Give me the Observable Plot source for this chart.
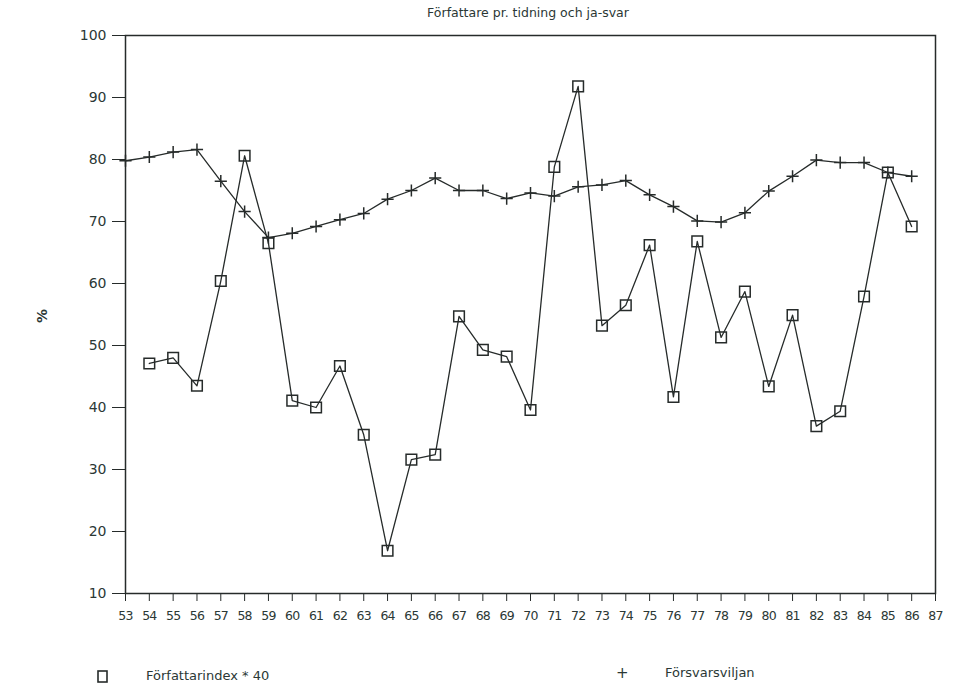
<!DOCTYPE html>
<html>
<head>
<meta charset="utf-8">
<script src="https://cdn.jsdelivr.net/npm/d3@7"></script>
<script src="https://cdn.jsdelivr.net/npm/@observablehq/plot@0.6"></script>
<style>
  body { margin: 0; background: #fff; font-family: "DejaVu Sans", sans-serif; color: #2b3835; }
  #wrap { position: relative; width: 955px; height: 688px; overflow: hidden; }
  #title { position: relative; height: 28px; }
  #title span { position: absolute; left: 528px; top: 5px; transform: translateX(-50%); font-size: 12.5px; white-space: nowrap; }
  #ylab { position: absolute; left: 35px; top: 308px; font-size: 14px; font-weight: bold; transform: rotate(-90deg); }
  #legend { position: relative; height: 50px; font-size: 13px; }
  #legend .it { position: absolute; white-space: nowrap; }
</style>
</head>
<body>
<div id="wrap">
  <div id="title"><span>Författare pr. tidning och ja-svar</span></div>
  <div id="chart"></div>
  <div id="legend"></div>
  <div id="ylab">%</div>
</div>
<script>
// ---- data ----
const years = [53,54,55,56,57,58,59,60,61,62,63,64,65,66,67,68,69,70,71,72,73,74,75,76,77,78,79,80,81,82,83,84,85,86];
const forfattarindex = [null,47.1,48.0,43.5,60.4,80.6,66.5,41.1,40.0,46.7,35.6,16.9,31.6,32.4,54.7,49.3,48.2,39.6,78.8,91.8,53.2,56.5,66.2,41.7,66.8,51.3,58.7,43.4,54.9,37.0,39.4,57.9,77.9,69.2];
const forsvarsviljan = [79.8,80.4,81.2,81.6,76.5,71.6,67.4,68.1,69.2,70.3,71.3,73.6,75.0,77.0,75.0,75.0,73.7,74.6,74.1,75.6,75.9,76.6,74.3,72.4,70.1,69.9,71.4,74.9,77.3,79.9,79.5,79.5,77.9,77.3];
const xTicks = [53,54,55,56,57,58,59,60,61,62,63,64,65,66,67,68,69,70,71,72,73,74,75,76,77,78,79,80,81,82,83,84,85,86,87];
const yTicks = [10,20,30,40,50,60,70,80,90,100];
const seriesNames = ["Författarindex * 40", "Försvarsviljan"];

const fData = years.map((y, i) => ({year: y, value: forfattarindex[i]})).filter(d => d.value != null);
const sData = years.map((y, i) => ({year: y, value: forsvarsviljan[i]}));

const ink = "#262b2a";
const textInk = "#2b3835";

const chart = Plot.plot({
  width: 955,
  height: 610,
  marginTop: 7,
  marginBottom: 45,
  marginLeft: 125,
  marginRight: 20,
  style: { fontFamily: "DejaVu Sans, sans-serif", background: "#fff", color: textInk },
  x: { domain: [53, 87] },
  y: { domain: [10, 100] },
  marks: [
    Plot.axisX({ ticks: xTicks, tickSize: 8, tickPadding: 10, tickFormat: d => String(d), fontSize: 12.5, label: null, stroke: ink }),
    Plot.axisY({ ticks: yTicks, tickSize: 13, tickPadding: 6, tickFormat: d => String(d), fontSize: 14, label: null, stroke: ink }),
    Plot.frame({ stroke: ink, strokeWidth: 1.5 }),
    Plot.line(sData, { x: "year", y: "value", stroke: ink, strokeWidth: 1.3 }),
    Plot.dot(sData, { x: "year", y: "value", symbol: "plus", r: 4, stroke: ink, strokeWidth: 1.5 }),
    Plot.line(fData, { x: "year", y: "value", stroke: ink, strokeWidth: 1.3 }),
    Plot.dot(fData, { x: "year", y: "value", symbol: "square", r: 6, stroke: ink, strokeWidth: 1.5, fill: "none" })
  ]
});
d3.select(chart).selectAll("g[aria-label='x-axis tick label'] text").attr("letter-spacing", "-0.8");
document.getElementById("chart").appendChild(chart);

const legend = document.getElementById("legend");
legend.innerHTML =
  `<svg class="it" style="left:97px;top:32px" width="12" height="14"><rect x="1" y="1" width="9" height="11" fill="none" stroke="${ink}" stroke-width="1.6"/></svg>` +
  `<span class="it" style="left:146px;top:30px">${seriesNames[0]}</span>` +
  `<span class="it" style="left:616px;top:26px;font-size:15px">+</span>` +
  `<span class="it" style="left:665px;top:27px">${seriesNames[1]}</span>`;
</script>
</body>
</html>
